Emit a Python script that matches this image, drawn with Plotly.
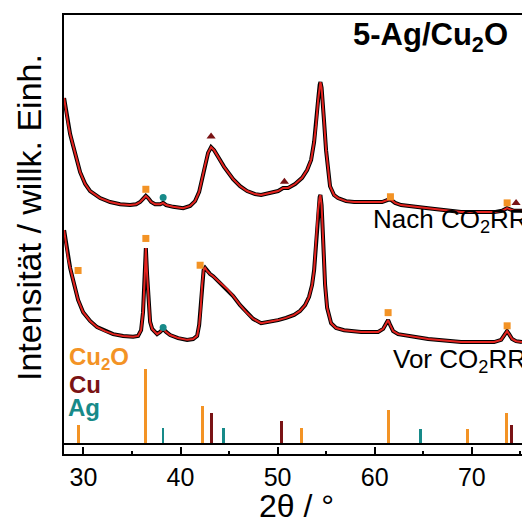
import plotly.graph_objects as go

# ---------------- data ----------------
# Upper pattern: after CO2RR (2theta in deg, intensity in arb. units)
nach_x = [28.01, 28.22, 28.42, 28.63, 28.94, 29.25, 29.66, 30.18, 30.69, 31.72, 32.75, 33.78, 34.81,
          35.43, 35.84, 36.14, 36.43, 36.67, 36.98, 37.38, 37.90, 38.21, 38.52, 39.24, 40.27, 40.99,
          41.50, 41.92, 42.22, 42.53, 42.84, 43.15, 43.46, 43.87, 44.49, 45.42, 46.14, 46.86, 47.68,
          48.30, 49.23, 50.05, 50.57, 51.08, 51.80, 52.52, 53.04, 53.45, 53.76, 53.96, 54.17, 54.33,
          54.41, 54.53, 54.65, 54.79, 54.99, 55.20, 55.40, 55.81, 56.22, 57.05, 57.88, 59.63, 60.76,
          61.38, 61.69, 62.10, 62.72, 65.50, 68.90, 72.30, 73.12, 73.63, 73.94, 74.35, 75.17]
nach_y = [81.1, 77.9, 75.2, 72.9, 70.2, 67.4, 64.2, 61.5, 59.9, 58.3, 57.4, 56.9, 56.7,
          56.9, 57.4, 58.1, 58.8, 58.3, 57.4, 56.9, 56.9, 57.2, 56.7, 56.3, 56.0, 56.5,
          57.6, 59.7, 62.9, 65.8, 68.6, 69.9, 69.2, 67.7, 65.4, 62.6, 61.0, 59.9, 59.2,
          59.0, 59.5, 59.9, 60.6, 60.6, 61.5, 62.9, 64.7, 67.0, 71.1, 74.9, 80.6, 84.1,
          84.7, 83.4, 80.6, 75.6, 69.2, 64.2, 61.0, 59.0, 58.3, 57.6, 57.4, 57.4, 57.4,
          57.9, 57.9, 57.2, 56.7, 56.0, 55.1, 55.1, 55.4, 56.0, 55.8, 55.4, 55.4]

# Lower pattern: before CO2RR
vor_x = [28.01, 28.22, 28.42, 28.63, 28.84, 29.14, 29.45, 29.97, 30.69, 31.41, 32.23, 33.06, 34.09,
         35.12, 35.63, 35.94, 36.14, 36.30, 36.43, 36.56, 36.71, 36.87, 37.08, 37.59, 37.90, 38.21,
         38.52, 38.93, 39.75, 40.68, 41.30, 41.71, 41.92, 42.07, 42.22, 42.38, 42.53, 42.74, 43.05,
         43.36, 44.08, 44.80, 45.42, 46.14, 46.86, 47.48, 48.30, 49.23, 50.05, 50.87, 51.70, 52.31,
         52.83, 53.24, 53.55, 53.76, 53.96, 54.17, 54.33, 54.41, 54.53, 54.69, 54.89, 55.10, 55.51,
         56.02, 56.85, 58.60, 60.35, 60.87, 61.17, 61.38, 61.59, 61.90, 62.41, 63.65, 65.50, 68.90,
         72.30, 73.02, 73.33, 73.63, 73.84, 74.15, 74.56, 75.17]
vor_y = [51.0, 47.6, 44.6, 42.4, 40.5, 37.6, 35.1, 32.3, 30.3, 28.9, 28.0, 27.3, 26.9,
         26.7, 26.9, 28.2, 32.3, 39.6, 46.9, 40.8, 33.9, 30.1, 28.5, 27.3, 27.8, 28.5,
         27.8, 27.1, 26.4, 26.0, 26.2, 26.9, 29.4, 32.8, 38.5, 41.9, 42.4, 41.7, 41.0,
         40.5, 39.0, 37.6, 36.0, 33.9, 32.1, 30.8, 29.8, 30.1, 30.5, 31.0, 31.7, 32.6,
         33.9, 35.8, 38.5, 41.9, 48.7, 55.6, 58.5, 59.0, 56.7, 48.7, 38.5, 33.3, 29.8,
         28.7, 28.2, 27.8, 27.8, 28.5, 29.8, 30.5, 29.4, 28.0, 27.3, 26.9, 26.2, 25.5,
         25.5, 26.0, 26.9, 28.0, 27.3, 26.2, 25.7, 25.5]

# Reflection markers on the patterns
mk_cu2o_x = [36.43, 61.62, 73.64, 29.45, 36.43, 42.02, 61.38, 73.64]
mk_cu2o_y = [60.3, 58.6, 57.2, 41.8, 49.1, 43.0, 32.2, 29.2]
mk_cu_x = [43.15, 50.70, 74.56]
mk_cu_y = [72.3, 62.0, 57.2]
mk_ag_x = [38.21, 38.21]
mk_ag_y = [58.4, 28.8]

# Reference stick patterns (position in deg, relative intensity in %)
ref_cu2o_pos = [29.5, 36.43, 42.3, 52.45, 61.38, 69.6, 73.56]
ref_cu2o_int = [24.8, 100, 50.5, 21.6, 45.5, 20.3, 41.6]
ref_cu_pos = [43.2, 50.36, 74.1]
ref_cu_int = [41.2, 30.1, 25.6]
ref_ag_pos = [38.2, 44.46, 64.75]
ref_ag_int = [21.6, 21.6, 20.3]

x_ticks = [30, 40, 50, 60, 70]
X_RANGE = [28.0, 75.17]
Y_RANGE = [0, 100]
STICK_BASE = 2.28
STICK_SCALE = 0.1715

ORANGE = "#F39325"
DARKRED = "#7A1315"
TEAL = "#178A89"
RED = "#E3231F"
FONT = "Liberation Sans, Arial, sans-serif"

fig = go.Figure()

# stick patterns
for pos, inten, col in [(ref_cu2o_pos, ref_cu2o_int, ORANGE),
                        (ref_cu_pos, ref_cu_int, DARKRED),
                        (ref_ag_pos, ref_ag_int, TEAL)]:
    fig.add_trace(go.Bar(x=pos, y=[v * STICK_SCALE for v in inten], base=STICK_BASE,
                         width=0.3, marker=dict(color=col, line=dict(width=0)),
                         showlegend=False, hoverinfo="skip"))

# patterns: black measured + red fit
for xs, ys in [(nach_x, nach_y), (vor_x, vor_y)]:
    fig.add_trace(go.Scatter(x=xs, y=ys, mode="lines", line=dict(color="black", width=4),
                             showlegend=False, hoverinfo="skip"))
    fig.add_trace(go.Scatter(x=xs, y=ys, mode="lines", line=dict(color=RED, width=2),
                             showlegend=False, hoverinfo="skip"))

# markers
fig.add_trace(go.Scatter(x=mk_cu2o_x, y=mk_cu2o_y, mode="markers",
                         marker=dict(symbol="square", size=7, color=ORANGE), showlegend=False))
fig.add_trace(go.Scatter(x=mk_cu_x, y=mk_cu_y, mode="markers",
                         marker=dict(symbol="triangle-up", size=8, color=DARKRED), showlegend=False))
fig.add_trace(go.Scatter(x=mk_ag_x, y=mk_ag_y, mode="markers",
                         marker=dict(symbol="circle", size=7, color=TEAL), showlegend=False))

# baseline of stick patterns
fig.add_shape(type="line", xref="paper", x0=0, x1=1, yref="y", y0=STICK_BASE, y1=STICK_BASE,
              line=dict(color="black", width=2))

annos = [
    dict(x=57.60, y=94.9, text="<b>5-Ag/Cu<sub>2</sub>O</b>", font=dict(size=31, color="black")),
    dict(x=59.58, y=53.2, text="Nach CO<sub>2</sub>RR", font=dict(size=26, color="black")),
    dict(x=61.65, y=21.3, text="Vor CO<sub>2</sub>RR", font=dict(size=26, color="black")),
    dict(x=28.30, y=21.7, text="<b>Cu<sub>2</sub>O</b>", font=dict(size=24, color=ORANGE)),
    dict(x=28.30, y=15.8, text="<b>Cu</b>", font=dict(size=24, color=DARKRED)),
    dict(x=28.25, y=10.6, text="<b>Ag</b>", font=dict(size=24, color=TEAL)),
]
for a in annos:
    fig.add_annotation(showarrow=False, xanchor="left", yanchor="middle", xref="x", yref="y", **a)

# axis titles as annotations
fig.add_annotation(x=-0.0764, y=0.5376, xref="paper", yref="paper", showarrow=False,
                   text="Intensität / willk. Einh.", textangle=-90, xanchor="center",
                   yanchor="middle", font=dict(size=34, color="black"))
fig.add_annotation(x=0.5087, y=-0.118, xref="paper", yref="paper", showarrow=False,
                   text="2θ / °", xanchor="center", yanchor="middle",
                   font=dict(size=32, color="black"))

fig.update_layout(
    width=522, height=524,
    margin=dict(l=64, r=0, t=15, b=70),
    paper_bgcolor="white", plot_bgcolor="white",
    font=dict(family=FONT, color="black"),
    barmode="overlay", bargap=0,
    xaxis=dict(range=X_RANGE, tickvals=x_ticks, ticks="inside", ticklen=7, tickwidth=2,
               tickcolor="black", showline=True, linewidth=2, linecolor="black", mirror=True,
               showgrid=False, zeroline=False, automargin=False,
               tickfont=dict(size=25, family=FONT),
               minor=dict(dtick=5, tick0=30, ticks="inside", ticklen=3, tickwidth=2,
                          tickcolor="black", showgrid=False)),
    yaxis=dict(range=Y_RANGE, showticklabels=False, ticks="", showline=True, linewidth=2,
               linecolor="black", mirror=False, showgrid=False, zeroline=False,
               automargin=False),
)

fig.write_html("out.html", config={"displayModeBar": False},
               post_script="document.body.style.margin='0';document.body.style.overflow='hidden';")
